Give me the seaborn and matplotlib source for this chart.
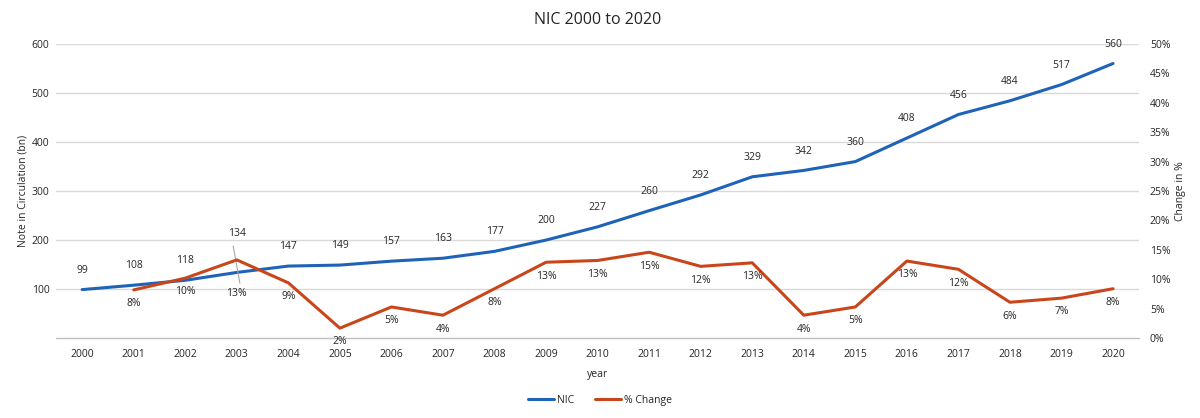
import numpy as np
import pandas as pd
import matplotlib
matplotlib.use("Agg")
import matplotlib.pyplot as plt
import seaborn as sns


years = list(range(2000, 2021))
nic = [99, 108, 118, 134, 147, 149, 157, 163, 177, 200, 227, 260, 292, 329,
       342, 360, 408, 456, 484, 517, 560]
pct_years = list(range(2001, 2021))
pct_change = [8.2, 10.2, 13.3, 9.4, 1.7, 5.3, 3.9, 8.4, 12.9, 13.2, 14.6, 12.2,
              12.8, 3.9, 5.3, 13.1, 11.7, 6.1, 6.8, 8.4]
left_ticks = [100, 200, 300, 400, 500, 600]
right_ticks = list(range(0, 55, 5))

blue = "#1f63b8"
orange = "#c9461b"
grey_text = "#262626"

sns.set_style("white")
plt.rcParams['font.family'] = ['Open Sans', 'DejaVu Sans']

df_nic = pd.DataFrame({'pos': np.arange(len(years)), 'NIC': nic})
df_pct = pd.DataFrame({'pos': np.arange(1, len(years)), 'pct': pct_change})

fig = plt.figure(figsize=(12, 4.18), dpi=100)
ax = fig.add_axes([0.047, 0.191, 0.902, 0.704])
ax2 = ax.twinx()

sns.lineplot(data=df_nic, x='pos', y='NIC', ax=ax, color=blue, lw=2.2, label='NIC', legend=False)
sns.lineplot(data=df_pct, x='pos', y='pct', ax=ax2, color=orange, lw=2.2, label='% Change', legend=False)

ax.set_xlim(-0.5, len(years) - 0.5)
ax.set_ylim(0, 600)
ax2.set_ylim(0, 50)

# axis styling
for a in (ax, ax2):
    for s in ['top', 'left', 'right', 'bottom']:
        a.spines[s].set_visible(False)
ax.axhline(0, color='#bfbfbf', lw=1, clip_on=False)
ax.set_yticks(left_ticks)
ax.set_yticklabels([str(t) for t in left_ticks], fontsize=7.5, color=grey_text)
ax.tick_params(axis='y', length=0, pad=5)
ax.yaxis.grid(True, color='#d9d9d9', lw=1)
ax.set_axisbelow(True)

ax.set_xticks(np.arange(len(years)))
ax.set_xticklabels([str(y) for y in years], fontsize=7.5, color=grey_text)
ax.set_xticks(np.arange(-0.5, len(years)), minor=True)
ax.tick_params(axis='x', which='major', length=0, pad=8)
ax.tick_params(axis='x', which='minor', length=4, color='#bfbfbf', direction='out')

ax2.set_yticks(right_ticks)
ax2.set_yticklabels([f"{t}%" for t in right_ticks], fontsize=7.5, color=grey_text)
ax2.tick_params(axis='y', length=0, pad=8)
ax2.grid(False)

ax.set_xlabel('year', fontsize=7.5, color=grey_text, labelpad=6)
ax.set_ylabel('Note in Circulation (bn)', fontsize=7.5, color=grey_text, labelpad=2)
ax2.set_ylabel('Change in %', fontsize=7.5, color=grey_text, labelpad=3)
ax.set_title('NIC 2000 to 2020', fontsize=11.5, color=grey_text, pad=14)

# data labels
for i, v in enumerate(nic):
    dy = 24 if years[i] == 2003 else 10
    ax.annotate(str(v), (i, v), xytext=(0, dy), textcoords='offset points',
                ha='center', va='bottom', fontsize=7.5, color=grey_text)
for i, v in enumerate(pct_change):
    pos = i + 1
    dy = 20 if pct_years[i] == 2003 else 6
    ax2.annotate(f"{round(v)}%", (pos, v), xytext=(0, -dy), textcoords='offset points',
                 ha='center', va='top', fontsize=7.5, color=grey_text)

# leader line for the 2003 label
ax.plot([2.93, 3.06], [188, 112], color='#a6a6a6', lw=0.8)

handles = ax.get_lines()[:1] + ax2.get_lines()[:1]
fig.legend(handles, ['NIC', '% Change'], loc='center', bbox_to_anchor=(0.5, 0.043),
           ncol=2, frameon=False, fontsize=7.5, handlelength=2.5, columnspacing=2,
           handletextpad=0.3, labelcolor=grey_text)

fig.savefig('out.png', dpi=100)
